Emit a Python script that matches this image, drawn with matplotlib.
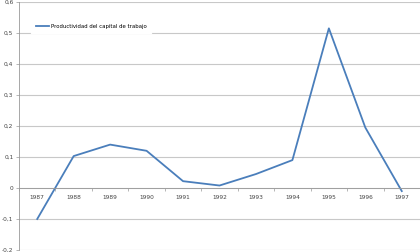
import numpy as np
import matplotlib.pyplot as plt

# datos
years = ['1987', '1988', '1989', '1990', '1991', '1992', '1993', '1994', '1995', '1996', '1997']
valores = [-0.10, 0.103, 0.14, 0.12, 0.022, 0.008, 0.045, 0.09, 0.515, 0.195, -0.01]
yticks = [-0.2, -0.1, 0, 0.1, 0.2, 0.3, 0.4, 0.5, 0.6]
ylabels = ['-0,2', '-0,1', '0', '0,1', '0,2', '0,3', '0,4', '0,5', '0,6']

fig = plt.figure(figsize=(4.2, 2.52), dpi=100)
ax = fig.add_axes([19/420, 2/252, 401/420, 248/252])

x = np.arange(len(years))
ax.plot(x, valores, color='#4a7ebb', lw=1.3, label='Productividad del capital de trabajo')

ax.set_xlim(-0.5, len(years) - 0.5)
ax.set_ylim(-0.2, 0.6)
ax.set_yticks(yticks)
ax.set_yticklabels(ylabels, fontsize=4.2, color='#444444')
ax.yaxis.grid(True, color='#c8c8c8', lw=0.8)
ax.set_axisbelow(True)
ax.tick_params(axis='y', length=2, width=0.5, color='#999999', pad=2)

# eje x sobre el cero
ax.spines['top'].set_visible(False)
ax.spines['right'].set_visible(False)
ax.spines['bottom'].set_position(('data', 0))
ax.spines['bottom'].set_color('#999999')
ax.spines['left'].set_color('#999999')
ax.spines['left'].set_linewidth(0.6)
ax.spines['bottom'].set_linewidth(0.6)
ax.set_xticks(np.arange(len(years) + 1) - 0.5)
ax.set_xticklabels([])
ax.tick_params(axis='x', length=2, width=0.5, color='#999999')
for i, yr in enumerate(years):
    ax.text(i, -0.022, yr, fontsize=4.2, color='#444444', ha='center', va='top')

leg = ax.legend(loc='center left', bbox_to_anchor=(0.03, 0.903), fontsize=3.9,
                frameon=True, fancybox=False, edgecolor='white', framealpha=1,
                handlelength=2.5, handletextpad=0.2, borderaxespad=0,
                borderpad=0.9)

fig.savefig('out.png', dpi=100)
